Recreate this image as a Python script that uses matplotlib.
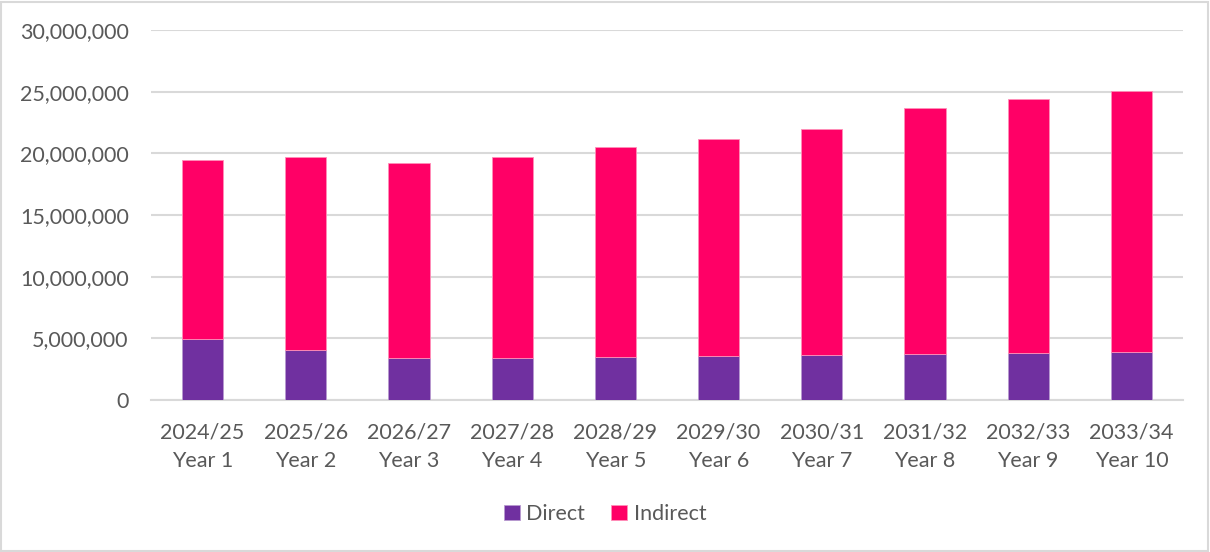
import matplotlib.pyplot as plt
from matplotlib.ticker import FuncFormatter
from matplotlib.patches import Rectangle

plt.rcParams['font.family'] = ['Lato', 'DejaVu Sans']

years = ["2024/25", "2025/26", "2026/27", "2027/28", "2028/29",
         "2029/30", "2030/31", "2031/32", "2032/33", "2033/34"]
labels = ["Year 1", "Year 2", "Year 3", "Year 4", "Year 5",
          "Year 6", "Year 7", "Year 8", "Year 9", "Year 10"]
direct = [4920000, 4030000, 3390000, 3390000, 3450000,
          3540000, 3620000, 3700000, 3780000, 3890000]
total = [19430000, 19700000, 19240000, 19730000, 20490000,
         21190000, 21950000, 23680000, 24410000, 25050000]
indirect = [t - d for t, d in zip(total, direct)]

purple = "#7030A0"
pink = "#FF0066"
grey = "#595959"

fig = plt.figure(figsize=(12.1, 5.52), dpi=100)
fig.patches.append(Rectangle((0.001, 0.002), 0.997, 0.995, transform=fig.transFigure,
                             fill=False, edgecolor="#D9D9D9", linewidth=1.5))
ax = fig.add_axes([151 / 1210, 1 - 400 / 552, 1032 / 1210, 370 / 552])

x = list(range(len(years)))
ax.bar(x, direct, width=0.4, color=purple, edgecolor="#B89AD0", linewidth=0.6,
       label="Direct", zorder=3)
ax.bar(x, indirect, width=0.4, bottom=direct, color=pink, edgecolor="#FF8FB8",
       linewidth=0.6, label="Indirect", zorder=3)

ax.set_xlim(-0.5, len(years) - 0.5)
ax.set_ylim(0, 30000000)
ax.set_yticks(range(0, 30000001, 5000000))
ax.yaxis.set_major_formatter(FuncFormatter(lambda v, p: f"{int(v):,}"))
ax.set_xticks(x)
ax.set_xticklabels([f"{a}\n{b}" for a, b in zip(years, labels)], linespacing=1.55)
ax.grid(axis="y", color="#D9D9D9", linewidth=1.5, zorder=0)
for s in ["top", "right", "left"]:
    ax.spines[s].set_visible(False)
ax.spines["bottom"].set_color("#D9D9D9")
ax.spines["bottom"].set_linewidth(1.5)
ax.tick_params(axis="both", length=0, labelsize=15.5, colors=grey)
ax.tick_params(axis="y", pad=16)
ax.tick_params(axis="x", pad=16)

leg = fig.legend(loc="center", bbox_to_anchor=(0.5, 1 - 514 / 552), ncol=2,
                 frameon=False, fontsize=15.5, handlelength=0.75, handleheight=0.75,
                 handletextpad=0.3, columnspacing=1.2)
for t in leg.get_texts():
    t.set_color(grey)

fig.savefig("out.png", dpi=100)
